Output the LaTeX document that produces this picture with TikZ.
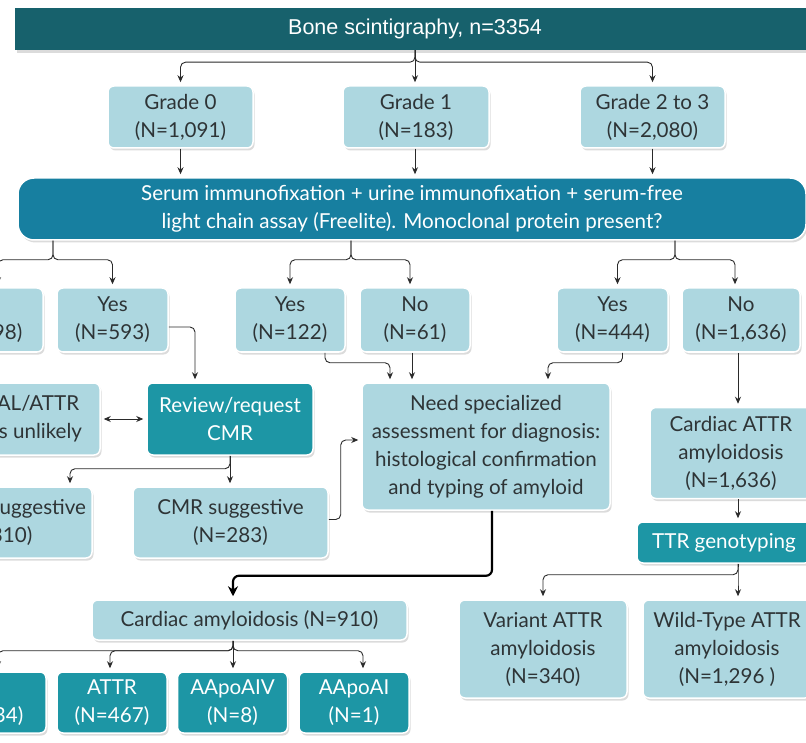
\documentclass[tikz,border=0pt]{standalone}
\usepackage{fontspec}
\setmainfont{Lato}
\newfontfamily\arialf{Liberation Sans}
\usetikzlibrary{arrows.meta,shadows}
\definecolor{titlec}{HTML}{17616C}
\definecolor{serumc}{HTML}{177FA0}
\definecolor{darkc}{HTML}{1D96A5}
\definecolor{lightc}{HTML}{ADD7E0}
\definecolor{txtc}{HTML}{2E3436}
\definecolor{linec}{HTML}{2A2A2A}
\tikzset{
  base/.style={rounded corners=6pt, draw=white, line width=1.5pt, inner sep=0pt, align=center,
    font=\fontsize{20.6}{28}\selectfont,
    drop shadow={shadow xshift=1.5pt, shadow yshift=-2.5pt, opacity=0.14, fill=black}},
  lbox/.style={base, fill=lightc, text=txtc},
  dbox/.style={base, fill=darkc, text=white},
  conn/.style={draw=linec, line width=0.9pt, rounded corners=5pt, shorten >=3pt,
    -{Stealth[length=7pt,width=6pt]}},
  bigconn/.style={draw=black, line width=2.2pt, rounded corners=6pt, shorten >=3pt,
    -{Stealth[length=10pt,width=10pt]}},
}
\begin{document}
\begin{tikzpicture}[x=1pt,y=-1pt]
\useasboundingbox (0,0) rectangle (806,743);
\clip (0,0) rectangle (806,743);
\fill[white] (0,0) rectangle (806,743);

% title
\node[fill=titlec, text=white, inner sep=0pt, minimum width=800pt, minimum height=42pt,
  font=\arialf\fontsize{21.5}{24}\selectfont,
  drop shadow={shadow xshift=1.5pt, shadow yshift=-3pt, opacity=0.14, fill=black}]
  (title) at (415,29) {Bone scintigraphy, n=3354};

% grades
\node[lbox, minimum width=145pt, minimum height=62pt] (g0) at (180.5,117) {Grade 0\\(N=1,091)};
\node[lbox, minimum width=146pt, minimum height=62pt] (g1) at (416,117) {Grade 1\\(N=183)};
\node[lbox, minimum width=145pt, minimum height=62pt] (g23) at (652.5,117) {Grade 2 to 3\\(N=2,080)};

% serum
\node[base, rounded corners=16pt, fill=serumc, text=white, minimum width=788pt, minimum height=62pt]
  (serum) at (412,209) {Serum immunofixation + urine immunofixation + serum-free\\light chain assay (Freelite). Monoclonal protein present?};

% yes/no row
\node[lbox, minimum width=116pt, minimum height=64pt] (no498) at (-15,320) {No\\(N=498)};
\node[lbox, minimum width=111pt, minimum height=64pt] (yes593) at (112.5,320) {Yes\\(N=593)};
\node[lbox, minimum width=110pt, minimum height=64pt] (yes122) at (290,320) {Yes\\(N=122)};
\node[lbox, minimum width=110pt, minimum height=64pt] (no61) at (415,320) {No\\(N=61)};
\node[lbox, minimum width=111pt, minimum height=64pt] (yes444) at (612.5,320) {Yes\\(N=444)};
\node[lbox, minimum width=118pt, minimum height=64pt] (no1636) at (741,320) {No\\(N=1,636)};

% middle
\node[lbox, minimum width=124pt, minimum height=72pt] (alattr) at (38,419) {AL/ATTR\\is unlikely};
\node[dbox, minimum width=166pt, minimum height=72pt] (review) at (230,419) {Review/request\\CMR};
\node[lbox, minimum width=248pt, minimum height=127pt] (need) at (486,446.5)
  {Need specialized\\assessment for diagnosis:\\histological confirmation\\and typing of amyloid};
\node[lbox, minimum width=162pt, minimum height=91pt] (cattr) at (731,453) {Cardiac ATTR\\amyloidosis\\(N=1,636)};
\node[lbox, minimum width=194pt, minimum height=71pt] (cmrnot) at (-5,522.5) {CMR not suggestive\\(N=310)};
\node[lbox, minimum width=195pt, minimum height=71pt] (cmrs) at (230.5,522.5) {CMR suggestive\\(N=283)};
\node[dbox, minimum width=174pt, minimum height=41pt] (ttr) at (724,542.5) {TTR genotyping};

% lower
\node[lbox, minimum width=315pt, minimum height=40pt] (camy) at (249.5,620) {Cardiac amyloidosis (N=910)};
\node[lbox, minimum width=168pt, minimum height=98pt] (variant) at (543,649) {Variant ATTR\\amyloidosis\\(N=340)};
\node[lbox, minimum width=168pt, minimum height=98pt] (wild) at (727,649) {Wild-Type ATTR\\amyloidosis\\(N=1,296 )};
\node[dbox, minimum width=120pt, minimum height=61pt] (al) at (-14,702.5) {AL\\(N=434)};
\node[dbox, minimum width=110pt, minimum height=61pt] (attr) at (112,702.5) {ATTR\\(N=467)};
\node[dbox, minimum width=110pt, minimum height=61pt] (aiv) at (232.5,702.5) {AApoAIV\\(N=8)};
\node[dbox, minimum width=110pt, minimum height=61pt] (ai) at (354,702.5) {AApoAI\\(N=1)};

% connectors: title -> grades
\draw[conn] (title.south) -- ++(0,12) -| (g0.north);
\draw[conn] (title.south) -- ++(0,12) -| (g23.north);
\draw[conn] (title.south) -- (title.south |- g1.north);
% grades -> serum
\draw[conn] (g0.south) -- (g0.south |- serum.north);
\draw[conn] ([xshift=-1pt]g1.south) -- ([xshift=-1pt]g1.south |- serum.north);
\draw[conn] (g23.south) -- (g23.south |- serum.north);
% serum -> yes/no
\draw[conn] ([xshift=-359pt]serum.south) -- ++(0,19) -| ([xshift=13pt]no498.north);
\draw[conn] ([xshift=-359pt]serum.south) -- ++(0,19) -| (yes593.north);
\draw[conn] ([xshift=-61pt]serum.south) -- ++(0,19) -| (yes122.north);
\draw[conn] ([xshift=-61pt]serum.south) -- ++(0,19) -| ([xshift=-5pt]no61.north);
\draw[conn] ([xshift=263pt]serum.south) -- ++(0,19) -| ([xshift=5pt]yes444.north);
\draw[conn] ([xshift=263pt]serum.south) -- ++(0,19) -| ([xshift=-6pt]no1636.north);
% yes593 -> review
\draw[conn] ([yshift=-7pt]yes593.east) -| ([xshift=-35pt]review.north);
% -> need
\draw[conn] ([xshift=35pt]yes122.south) -- ++(0,10) -| ([xshift=-96pt]need.north);
\draw[conn] ([xshift=-3pt]no61.south) -- ([xshift=-3pt]no61.south |- need.north);
\draw[conn] ([xshift=10pt]yes444.south) -- ++(0,10) -| ([xshift=62pt]need.north);
% no1636 -> cardiac ATTR -> TTR
\draw[conn] ([xshift=-3pt]no1636.south) -- ([xshift=7pt]cattr.north);
\draw[conn] ([xshift=7pt]cattr.south) -- ([xshift=14pt]ttr.north);
\draw[conn] ([xshift=14pt]ttr.south) -- ++(0,11) -| (variant.north);
\draw[conn] ([xshift=14pt]ttr.south) -- ++(0,11) -| ([xshift=11pt]wild.north);
% al/attr <-> review
\draw[conn, shorten <=3pt, {Stealth[length=7pt,width=6pt]}-{Stealth[length=7pt,width=6pt]}] (alattr.east) -- (review.west);
% review -> cmr
\draw[conn] (review.south) -- ++(0,13) -| ([xshift=75pt]cmrnot.north);
\draw[conn] (review.south) -- (review.south |- cmrs.north);
% cmr suggestive -> need
\draw[conn] ([yshift=3pt]cmrs.east) -- ++(12,0) |- ([yshift=6.5pt]need.west);
% need -> cardiac amyloidosis
\draw[bigconn] ([xshift=6pt]need.south) -- ++(0,65) -| ([xshift=-16.5pt]camy.north);
% cardiac amyloidosis -> types
\draw[conn] ([xshift=-16.5pt]camy.south) -- ++(0,10) -| ([xshift=12pt]al.north);
\draw[conn] ([xshift=-16.5pt]camy.south) -- ++(0,10) -| ([xshift=-2pt]attr.north);
\draw[conn] ([xshift=-16.5pt]camy.south) -- ++(0,10) -| ([xshift=9pt]ai.north);
\draw[conn] ([xshift=-16.5pt]camy.south) -- ([xshift=-16.5pt]camy.south |- aiv.north);
\end{tikzpicture}
\end{document}
